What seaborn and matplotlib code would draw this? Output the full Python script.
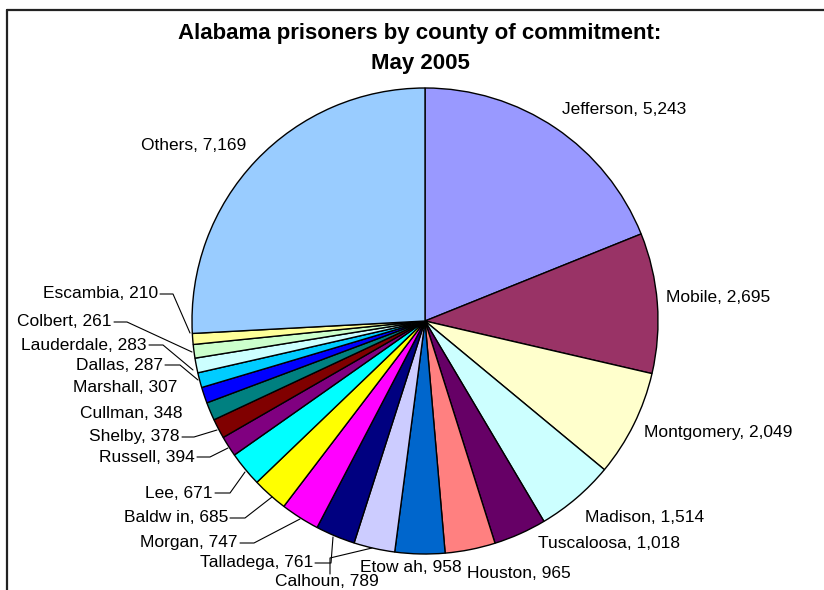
import matplotlib
matplotlib.use("Agg")
import matplotlib.pyplot as plt
import seaborn as sns

counties = ["Jefferson", "Mobile", "Montgomery", "Madison", "Tuscaloosa", "Houston",
            "Etow ah", "Calhoun", "Talladega", "Morgan", "Baldw in", "Lee", "Russell",
            "Shelby", "Cullman", "Marshall", "Dallas", "Lauderdale", "Colbert",
            "Escambia", "Others"]
prisoners = [5243, 2695, 2049, 1514, 1018, 965, 958, 789, 761, 747, 685, 671, 394,
             378, 348, 307, 287, 283, 261, 210, 7169]
colors = ["#9999FF", "#993366", "#FFFFCC", "#CCFFFF", "#660066", "#FF8080",
          "#0066CC", "#CCCCFF", "#000080", "#FF00FF", "#FFFF00", "#00FFFF",
          "#800080", "#800000", "#008080", "#0000FF", "#00CCFF", "#CCFFFF",
          "#CCFFCC", "#FFFF99", "#99CCFF"]

sns.set_theme(style="white")
plt.rcParams['font.family'] = ['Liberation Sans', 'DejaVu Sans']

W, H = 824, 590
CX, CY, R = 425, 321, 233
fig = plt.figure(figsize=(W / 100, H / 100), dpi=100)
ax = fig.add_axes([0, 0, 1, 1])

palette = sns.color_palette(colors)
ax.pie(prisoners, colors=palette, startangle=90, counterclock=False,
       radius=1.0, center=(0, 0),
       wedgeprops=dict(edgecolor="black", linewidth=1.0))

ax.set_xlim(-CX / R, (W - CX) / R)
ax.set_ylim(-(H - CY) / R, CY / R)
ax.set_aspect("equal")
ax.axis("off")


def P(px, py):
    return ((px - CX) / R, (CY - py) / R)


# label layout: (text anchor px, ha, leader polyline in px or None)
layout = {
    "Jefferson": ((562, 110), "left", None),
    "Mobile": ((666, 298), "left", None),
    "Montgomery": ((644, 433), "left", None),
    "Madison": ((585, 517), "left", None),
    "Tuscaloosa": ((538, 544), "left", None),
    "Houston": ((467, 574), "left", None),
    "Etow ah": ((360, 567), "left", None),
    "Calhoun": ((275, 582), "left", [(330, 574), (330, 558), (372, 548)]),
    "Talladega": ((313, 563), "right", [(315, 563), (331, 563), (333, 537)]),
    "Morgan": ((238, 543), "right", [(240, 543), (254, 543), (300, 519)]),
    "Baldw in": ((228, 518), "right", [(230, 518), (245, 518), (272, 497)]),
    "Lee": ((213, 493), "right", [(215, 493), (230, 493), (245, 472)]),
    "Russell": ((195, 457), "right", [(197, 457), (210, 457), (228, 448)]),
    "Shelby": ((180, 437), "right", [(182, 437), (194, 437), (217, 430)]),
    "Cullman": ((183, 414), "right", None),
    "Marshall": ((177, 388), "right", None),
    "Dallas": ((163, 365), "right", [(165, 365), (180, 365), (198, 380)]),
    "Lauderdale": ((147, 345), "right", [(149, 345), (163, 345), (193, 370)]),
    "Colbert": ((112, 322), "right", [(114, 322), (127, 322), (192, 352)]),
    "Escambia": ((158, 294), "right", [(160, 294), (173, 294), (190, 333)]),
    "Others": ((246, 145), "right", None),
}

for name, val in zip(counties, prisoners):
    (px, py), ha, leader = layout[name]
    x, y = P(px, py)
    ax.text(x, y, f"{name}, {val:,}", ha=ha, va="center", fontsize=12.5,
            color="black")
    if leader:
        xs, ys = zip(*[P(a, b) for a, b in leader])
        ax.plot(xs, ys, color="black", linewidth=0.8)

fig.text(420 / W, 1 - 33 / H, "Alabama prisoners by county of commitment:",
         ha="center", va="center", fontsize=16, fontweight="bold", color="black")
fig.text(420 / W, 1 - 63 / H, "May 2005", ha="center", va="center",
         fontsize=16, fontweight="bold", color="black")

# chart frame (top and left edges visible)
fig.add_artist(plt.Line2D([7 / W, 7 / W], [0, 1 - 10 / H], transform=fig.transFigure,
                          color="#222222", linewidth=1.6))
fig.add_artist(plt.Line2D([7 / W, 1], [1 - 10 / H, 1 - 10 / H], transform=fig.transFigure,
                          color="#222222", linewidth=1.6))

fig.savefig("out.png", dpi=100, facecolor="white")
